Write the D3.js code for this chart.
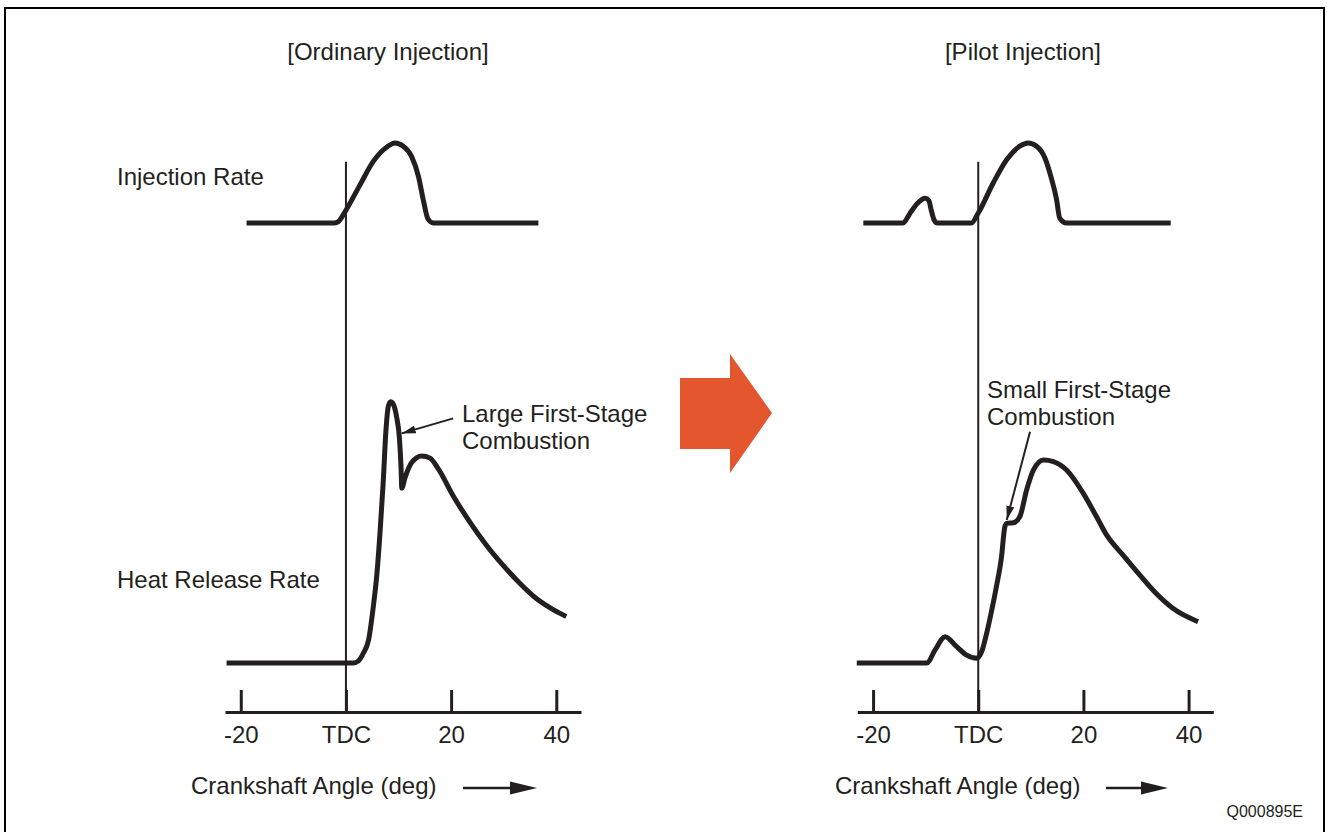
<!DOCTYPE html>
<html lang='en'>
<head>
<meta charset="utf-8">
<style>
body {
  margin: 0;
  background: #fff;
}
text {
  font-family: "Liberation Sans", Arial, sans-serif;
  font-size: 24px;
  fill: #231f20;
}
.curve {
  fill: none;
  stroke: #231f20;
  stroke-width: 5px;
  stroke-linejoin: round;
  stroke-linecap: butt;
}
.axis path, .axis line {
  stroke: #231f20;
  stroke-width: 3px;
}
.axis text {
  font-size: 24px;
  fill: #231f20;
}
.tdc {
  stroke: #231f20;
  stroke-width: 2px;
}
.note {
  stroke: #231f20;
  stroke-width: 2px;
  fill: none;
}
</style>
</head>
<body>
<svg width="1327" height="832"></svg>

<script src="https://cdn.jsdelivr.net/npm/d3@7"></script>
<script>
  // crank angle ticks
  var tickAngles = [-20, 0, 20, 40];

  // injection rate, ordinary injection: [deg, relative rate]
  var injOrdinary = [
    [-18.9, 0], [-2.2, 0], [-1.4, 0.02], [0, 0.16], [2.7, 0.48], [5.2, 0.77],
    [7.8, 0.95], [9.3, 1.0], [10.9, 0.96], [12.5, 0.83], [13.8, 0.58],
    [14.7, 0.29], [15.6, 0.05], [16.6, 0], [36.6, 0]
  ];

  // injection rate, pilot injection
  var injPilot = [
    [-21.85, 0], [-14.3, 0], [-13.0, 0.12], [-11.5, 0.25], [-10.1, 0.31],
    [-9.4, 0.28], [-8.9, 0.15], [-8.4, 0.04], [-7.8, 0], [-1.3, 0],
    [0, 0.125], [2.85, 0.5], [5.4, 0.79], [7.9, 0.96], [9.5, 1.0],
    [11.1, 0.96], [12.7, 0.81], [13.9, 0.56], [14.9, 0.29], [15.5, 0.06],
    [16.8, 0], [36.6, 0]
  ];

  // heat release rate, ordinary injection: [deg, relative %]
  var heatOrdinary = [
    [-22.7, 0], [1.4, 0], [2.4, 0.8], [3.3, 3.7], [4.3, 8.7], [5.2, 21.4],
    [5.9, 34.1], [6.5, 50.2], [7.1, 69.2], [7.6, 88.2], [8.07, 97.7],
    [8.5, 99.3], [9.0, 98.4], [9.66, 93.3], [10.16, 85.7], [10.48, 74.3],
    [10.62, 66.5], [11.24, 70.5], [12.5, 76.2], [14.4, 78.7], [16.0, 77.9],
    [17.6, 73.7], [20.4, 63.5], [23.6, 53.5], [26.75, 44.7], [29.9, 37.1],
    [33.1, 30.2], [36.2, 24.5], [39.4, 20.3], [41.9, 17.7]
  ];

  // heat release rate, pilot injection
  var heatPilot = [
    [-23.1, 0], [-9.8, 0], [-8.2, 5], [-6.3, 10.0], [-4.1, 6.2], [-2.2, 3.0],
    [-0.3, 1.8], [0.65, 4.3], [1.5, 10.5], [2.5, 19.5], [3.5, 29.5],
    [4.4, 40.0], [5.07, 51.9], [5.4, 53.1], [6.65, 53.3], [7.9, 55.6],
    [9.2, 65.8], [10.5, 73.4], [12.4, 77.2], [14.3, 76.6], [16.8, 73.4],
    [19.95, 64.6], [22.5, 55.6], [24.4, 48.7], [27.5, 41.1], [30.7, 33.5],
    [33.9, 26.3], [37.0, 20.8], [41.8, 15.7]
  ];

  // annotation arrows: [tail deg, tail value, tip deg, tip value]
  var noteOrdinary = [20.4, 93.0, 10.6, 87.3];
  var notePilot = [9.85, 87.9, 5.42, 54.4];

  var svg = d3.select("svg");

  svg.append("rect")
      .attr("x", 5).attr("y", 8)
      .attr("width", 1319).attr("height", 840)
      .attr("fill", "none")
      .attr("stroke", "#000")
      .attr("stroke-width", 2);

  var defs = svg.append("defs");
  defs.append("marker")
      .attr("id", "head")
      .attr("markerUnits", "userSpaceOnUse")
      .attr("viewBox", "0 0 14 8")
      .attr("refX", 14).attr("refY", 4)
      .attr("markerWidth", 14).attr("markerHeight", 8)
      .attr("orient", "auto")
    .append("path")
      .attr("d", "M0,0L14,4L0,8Z")
      .attr("fill", "#231f20");

  var yInj = d3.scaleLinear().domain([0, 1]).range([223, 143]),
      yHeat = d3.scaleLinear().domain([0, 100]).range([663, 400]);

  var panels = [
    {title: "[Ordinary Injection]", titleX: 388, range: [225, 581],
     inj: injOrdinary, heat: heatOrdinary, note: noteOrdinary,
     noteText: ["Large First-Stage", "Combustion"], noteX: 462, noteY: 422,
     labelX: 191, arrow: [463, 537], rowLabels: true},
    {title: "[Pilot Injection]", titleX: 1023, range: [857.3, 1213.3],
     inj: injPilot, heat: heatPilot, note: notePilot,
     noteText: ["Small First-Stage", "Combustion"], noteX: 987, noteY: 398,
     labelX: 835, arrow: [1106, 1168], rowLabels: false}
  ];

  panels.forEach(function(p) {
    var x = d3.scaleLinear().domain([-23, 44.7]).range(p.range);
    var g = svg.append("g");

    g.append("text")
        .attr("x", p.titleX).attr("y", 60)
        .attr("text-anchor", "middle")
        .text(p.title);

    if (p.rowLabels) {
      g.append("text").attr("x", 117).attr("y", 185).text("Injection Rate");
      g.append("text").attr("x", 117).attr("y", 588).text("Heat Release Rate");
    }

    var axis = d3.axisBottom(x)
        .tickValues(tickAngles)
        .tickSizeInner(-22)
        .tickSizeOuter(0)
        .tickPadding(14)
        .tickFormat(function(d) { return d === 0 ? "TDC" : d; });

    var ax = g.append("g")
        .attr("class", "axis")
        .attr("transform", "translate(0,712)")
        .call(axis);
    ax.selectAll("text").attr("font-family", null).attr("font-size", null);

    g.append("line")
        .attr("class", "tdc")
        .attr("x1", x(0)).attr("x2", x(0))
        .attr("y1", 161.7).attr("y2", 712);

    var lineInj = d3.line()
        .x(function(d) { return x(d[0]); })
        .y(function(d) { return yInj(d[1]); })
        .curve(d3.curveMonotoneX);
    var lineHeat = d3.line()
        .x(function(d) { return x(d[0]); })
        .y(function(d) { return yHeat(d[1]); })
        .curve(d3.curveMonotoneX);

    g.append("path").attr("class", "curve").attr("d", lineInj(p.inj));
    g.append("path").attr("class", "curve").attr("d", lineHeat(p.heat));

    g.append("line")
        .attr("class", "note")
        .attr("x1", x(p.note[0])).attr("y1", yHeat(p.note[1]))
        .attr("x2", x(p.note[2])).attr("y2", yHeat(p.note[3]))
        .attr("marker-end", "url(#head)");

    p.noteText.forEach(function(t, i) {
      g.append("text")
          .attr("x", p.noteX).attr("y", p.noteY + i * 26.5)
          .text(t);
    });

    g.append("text")
        .attr("x", p.labelX).attr("y", 794)
        .text("Crankshaft Angle (deg)");

    g.append("line")
        .attr("x1", p.arrow[0]).attr("x2", p.arrow[1] - 20)
        .attr("y1", 788).attr("y2", 788)
        .attr("stroke", "#231f20").attr("stroke-width", 2.5);
    g.append("path")
        .attr("d", "M" + (p.arrow[1] - 27) + ",781.5L" + p.arrow[1] + ",788L" + (p.arrow[1] - 27) + ",794.5Z")
        .attr("fill", "#231f20");
  });

  // big orange arrow between the panels
  svg.append("path")
      .attr("d", "M680,378H730V354L772,413L730,473V449H680Z")
      .attr("fill", "#e4572e");

  svg.append("text")
      .attr("x", 1303).attr("y", 817)
      .attr("text-anchor", "end")
      .style("font-size", "16px")
      .text("Q000895E");
</script>
</body>
</html>
